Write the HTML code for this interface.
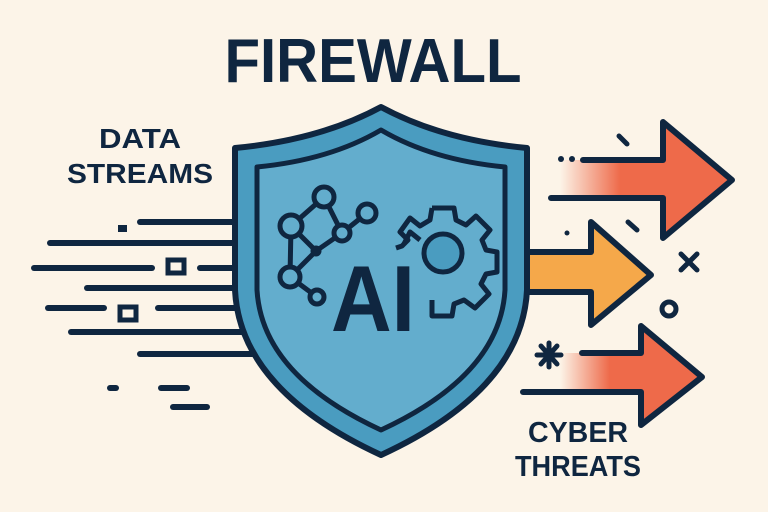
<!DOCTYPE html>
<html><head><meta charset="utf-8"><style>
html,body{margin:0;padding:0;background:#fcf4e8;}
svg{display:block;}
text{font-family:"Liberation Sans",sans-serif;font-weight:bold;fill:#0f2640;}
</style></head><body>
<svg width="768" height="512" viewBox="0 0 768 512" xmlns="http://www.w3.org/2000/svg">
<defs>
<linearGradient id="r1" x1="0" x2="1" y1="0" y2="0">
<stop offset="0" stop-color="#ee6a4a" stop-opacity="0"/>
<stop offset="0.35" stop-color="#ee6a4a" stop-opacity="1"/>
<stop offset="1" stop-color="#ee6a4a"/>
</linearGradient>
</defs>
<rect width="768" height="512" fill="#fcf4e8"/>
<text x="373" y="82" font-size="62" text-anchor="middle" textLength="297" lengthAdjust="spacingAndGlyphs">FIREWALL</text>
<text x="140" y="148" font-size="28" text-anchor="middle" textLength="82" lengthAdjust="spacingAndGlyphs">DATA</text>
<text x="140" y="183" font-size="28" text-anchor="middle" textLength="146" lengthAdjust="spacingAndGlyphs">STREAMS</text>
<text x="578" y="442" font-size="29" text-anchor="middle" textLength="100" lengthAdjust="spacingAndGlyphs">CYBER</text>
<text x="578" y="476" font-size="29" text-anchor="middle" textLength="126" lengthAdjust="spacingAndGlyphs">THREATS</text>

<g stroke="#0f2640" stroke-width="6" stroke-linecap="round" fill="none">
<line x1="140" y1="222" x2="250" y2="222"/>
<line x1="50" y1="243" x2="250" y2="243"/>
<line x1="34" y1="268" x2="152" y2="268"/>
<line x1="200" y1="268" x2="250" y2="268"/>
<line x1="87" y1="288" x2="250" y2="288"/>
<line x1="48" y1="308" x2="104" y2="308"/>
<line x1="158" y1="308" x2="250" y2="308"/>
<line x1="71" y1="332" x2="260" y2="332"/>
<line x1="140" y1="354" x2="270" y2="354"/>
<line x1="110" y1="388" x2="116" y2="388"/>
<line x1="161" y1="388" x2="187" y2="388"/>
<line x1="173" y1="407" x2="207" y2="407"/>
<rect x="168" y="260" width="16" height="13" stroke-width="5" stroke-linecap="butt"/>
<rect x="120" y="307" width="16" height="13" stroke-width="5" stroke-linecap="butt"/>
</g>
<rect x="118" y="225" width="9" height="7" fill="#0f2640"/>

<path d="M500 252 L591 252 L591 222 L651 275 L591 325 L591 292 L500 292 Z" fill="#f5a84a" stroke="#0f2640" stroke-width="6" stroke-linejoin="round"/>

<path d="M381 107 Q320 140 235 148 L235 290 Q240 390 381 455 Q522 390 527 290 L527 148 Q442 140 381 107 Z" fill="#4a9cc0" stroke="#0f2640" stroke-width="6" stroke-linejoin="round"/>
<path d="M381 130 Q330 160 257 167 L257 290 Q262 375 381 430 Q500 375 505 290 L505 167 Q432 160 381 130 Z" fill="#63adcd" stroke="#0f2640" stroke-width="5" stroke-linejoin="round"/>

<g stroke="#0f2640" stroke-width="5" fill="none" stroke-linecap="round">
<line x1="324" y1="197" x2="291" y2="226"/>
<line x1="324" y1="197" x2="342" y2="233"/>
<line x1="342" y1="233" x2="367" y2="213"/>
<line x1="291" y1="226" x2="316" y2="251"/>
<line x1="342" y1="233" x2="316" y2="251"/>
<line x1="291" y1="226" x2="290" y2="277"/>
<line x1="316" y1="251" x2="290" y2="277"/>
<line x1="290" y1="277" x2="317" y2="297"/>
<circle cx="324" cy="197" r="10" fill="#63adcd"/>
<circle cx="291" cy="226" r="11" fill="#63adcd"/>
<circle cx="367" cy="213" r="9" fill="#63adcd"/>
<circle cx="342" cy="233" r="8" fill="#63adcd"/>
<circle cx="290" cy="277" r="10" fill="#63adcd"/>
<circle cx="317" cy="297" r="7" fill="#63adcd"/>
<circle cx="316" cy="251" r="3" fill="#0f2640"/>
</g>

<g stroke="#0f2640" stroke-width="5" fill="none" stroke-linejoin="round">
<path d="M432 208 L454 208 L456 220 L466 225 L476 216 L490 230 L482 240 L486 250 L497 252 L497 272 L486 274 L481 284 L489 294 L475 308 L464 300 L454 304 L452 316 L432 316 L432 300" />
<path d="M420 240 L410 232 L404 244" />
<path d="M432 208 L430 220 L420 226 L410 218 L400 232 L408 240 L402 246 L396 248"/>
<circle cx="443" cy="253" r="19" fill="#4a9cc0"/>
</g>

<text x="373" y="331" font-size="94" text-anchor="middle" textLength="84" lengthAdjust="spacingAndGlyphs">AI</text>

<path d="M560 160 L663 160 L663 122 L732 180 L663 238 L663 198 L560 198 Z" fill="url(#r1)"/>
<path d="M583 160 L663 160 L663 122 L732 180 L663 238 L663 198 L551 198" fill="none" stroke="#0f2640" stroke-width="6" stroke-linejoin="round" stroke-linecap="round"/>
<path d="M560 353 L641 353 L641 326 L702 377 L641 425 L641 392 L560 392 Z" fill="url(#r1)"/>
<path d="M582 353 L641 353 L641 326 L702 377 L641 425 L641 392 L523 392" fill="none" stroke="#0f2640" stroke-width="6" stroke-linejoin="round" stroke-linecap="round"/>

<g stroke="#0f2640" stroke-width="5" stroke-linecap="round" fill="none">
<line x1="619" y1="136" x2="627" y2="144"/>
<line x1="628" y1="222" x2="637" y2="230"/>
<line x1="681" y1="254" x2="697" y2="270"/>
<line x1="697" y1="254" x2="681" y2="270"/>
<circle cx="669" cy="309" r="7"/>
<line x1="549" y1="343" x2="549" y2="367"/>
<line x1="537" y1="355" x2="561" y2="355"/>
<line x1="541" y1="346" x2="557" y2="364"/>
<line x1="557" y1="346" x2="541" y2="364"/>
</g>
<circle cx="561" cy="159" r="3" fill="#0f2640"/>
<circle cx="572" cy="159" r="3" fill="#0f2640"/>
<circle cx="567" cy="233" r="2.5" fill="#0f2640"/>
</svg>
</body></html>
